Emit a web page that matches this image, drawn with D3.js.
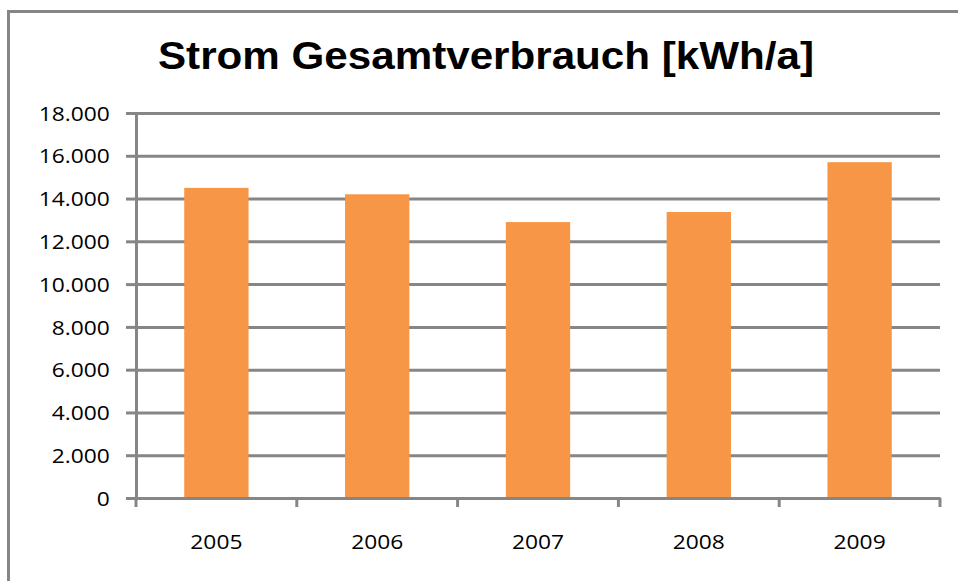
<!DOCTYPE html>
<html>
<head>
<meta charset="utf-8">
<script src="https://cdn.jsdelivr.net/npm/d3@7"></script>
<style>
  body { margin: 0; background: #fff; }
  .grid line { stroke: #868686; stroke-width: 3; }
  .grid path { display: none; }
  .axis path, .axis line { stroke: #868686; stroke-width: 3; }
  .axis text { font-family: "Open Sans", sans-serif; font-size: 20px; fill: #000; }
  .title { font-family: "Liberation Sans", Arial, sans-serif; font-weight: bold; font-size: 38px; }
</style>
</head>
<body>
<script>
// data
let years = ["2005", "2006", "2007", "2008", "2009"];
let values = [14500, 14200, 12900, 13370, 15700];
let yTicks = [0, 2000, 4000, 6000, 8000, 10000, 12000, 14000, 16000, 18000];

let fullW = 958, fullH = 581;
let margin = {top: 113, right: 18, bottom: 83, left: 136};
let width = fullW - margin.left - margin.right;
let height = fullH - margin.top - margin.bottom;

// german number format: 18.000
let de = d3.formatLocale({decimal: ",", thousands: ".", grouping: [3], currency: ["", " €"]});
let fmt = de.format(",d");

let svg0 = d3.select("body").append("svg")
  .attr("width", fullW)
  .attr("height", fullH);

// outer chart frame (runs off the right and bottom edge)
svg0.append("rect")
  .attr("x", 8.5)
  .attr("y", 11.5)
  .attr("width", 1000)
  .attr("height", 1000)
  .attr("fill", "none")
  .attr("stroke", "#868686")
  .attr("stroke-width", 3);

svg0.append("text")
  .attr("class", "title")
  .attr("x", 486)
  .attr("y", 69)
  .attr("text-anchor", "middle")
  .attr("textLength", 656)
  .attr("lengthAdjust", "spacingAndGlyphs")
  .text("Strom Gesamtverbrauch [kWh/a]");

let svg = svg0.append("g")
  .attr("transform", "translate(" + margin.left + "," + margin.top + ")");

let xScale = d3.scaleBand()
  .domain(years)
  .range([0, width])
  .padding(0);

let yScale = d3.scaleLinear()
  .domain([0, 18000])
  .range([height, 0]);

// horizontal gridlines
svg.append("g")
  .attr("class", "grid")
  .call(d3.axisLeft(yScale)
    .tickValues(yTicks)
    .tickSize(-width)
    .tickFormat(""));

// bars (excel gap width 150% -> bar is 40% of the category)
let barW = xScale.bandwidth() * 0.4;
svg.selectAll(".bar")
  .data(values)
  .enter().append("rect")
  .attr("class", "bar")
  .attr("x", function(d, i) { return xScale(years[i]) + (xScale.bandwidth() - barW) / 2; })
  .attr("width", barW)
  .attr("y", function(d) { return yScale(d); })
  .attr("height", function(d) { return height - yScale(d); })
  .attr("fill", "#F79646");

// y axis
let yAxis = svg.append("g")
  .attr("class", "axis")
  .call(d3.axisLeft(yScale)
    .tickValues(yTicks)
    .tickSize(10)
    .tickPadding(13)
    .tickFormat(fmt));
yAxis.selectAll("text")
  .attr("dy", "0.36em")
  .attr("transform", "scale(1.14,1)");

// x axis, ticks sit between the categories
let xAxis = svg.append("g")
  .attr("class", "axis")
  .attr("transform", "translate(0," + height + ")")
  .call(d3.axisBottom(xScale).tickSize(0).tickPadding(37));
xAxis.selectAll("text")
  .attr("transform", "scale(1.14,1)")
  .attr("x", 0);
xAxis.selectAll(".tick").each(function(d) {
  d3.select(this).select("text").attr("dy", "0.71em");
});
xAxis.selectAll(".tick")
  .attr("transform", function(d) { return "translate(" + (xScale(d) + xScale.bandwidth() / 2) + ",0) scale(1,1)"; });
xAxis.selectAll(".tick text")
  .attr("transform", "scale(1.14,1)");

let bounds = xScale.domain().map(function(d) { return xScale(d); }).concat([width]);
xAxis.selectAll(".sep")
  .data(bounds)
  .enter().append("line")
  .attr("class", "sep")
  .attr("x1", function(d) { return d; })
  .attr("x2", function(d) { return d; })
  .attr("y1", 0)
  .attr("y2", 9)
  .attr("stroke", "#868686")
  .attr("stroke-width", 3);
</script>
</body>
</html>
